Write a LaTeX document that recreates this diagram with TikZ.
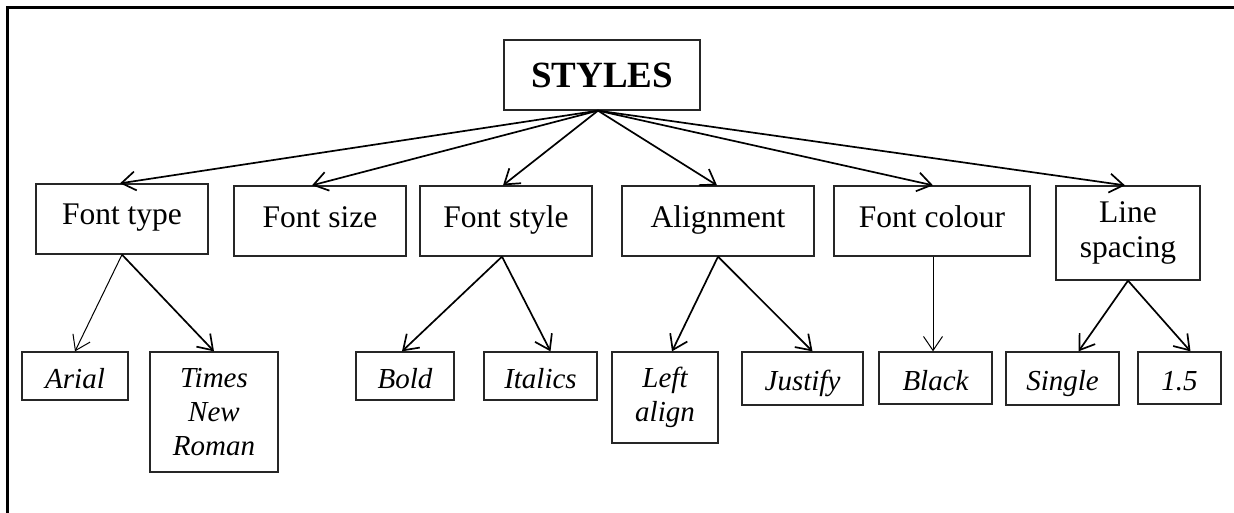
\documentclass[tikz,border=0pt]{standalone}
\usepackage{fontspec}
\setmainfont{Liberation Serif}
\usetikzlibrary{arrows.meta}

\tikzset{
  box/.style={draw=black!85, line width=1.3pt, inner sep=0pt},
  lvlone/.style={box, font=\fontsize{31.5}{35}\selectfont},
  lvltwo/.style={box, font=\fontsize{29}{34}\selectfont\itshape},
  oneup/.style={text height=22pt, text depth=10pt},
  twoup/.style={text height=28pt, text depth=4pt},
}

\begin{document}
\begin{tikzpicture}[x=1pt, y=-1pt, >={Straight Barb[length=14pt,width=19pt]}, line width=1.7pt]
\useasboundingbox (0,0) rectangle (1234,513);
\draw[line width=2.5pt] (7.5,513) -- (7.5,7.5) -- (1234,7.5);
\node[box, font=\fontsize{37}{40}\selectfont\bfseries, minimum width=196pt, minimum height=70pt] (styles) at (602,75) {STYLES\hspace{14pt}};

\node[lvlone, oneup, minimum width=172pt, minimum height=70pt] (ftype) at (122,219) {Font type};
\node[lvlone, oneup, minimum width=172pt, minimum height=70pt] (fsize) at (320,221) {Font size};
\node[lvlone, oneup, minimum width=172pt, minimum height=70pt] (fstyle) at (506,221) {Font style};
\node[lvlone, oneup, minimum width=192pt, minimum height=70pt] (alignm) at (718,221) {Alignment};
\node[lvlone, oneup, minimum width=196pt, minimum height=70pt] (fcolour) at (932,221) {Font colour};
\node[lvlone, align=center, minimum width=144pt, minimum height=94pt] (lspace) at (1128,233) {Line\\spacing};

\node[lvltwo, twoup, minimum width=106pt, minimum height=48pt] (arial) at (75,376) {Arial};
\node[lvltwo, align=center, minimum width=128pt, minimum height=120pt] (times) at (214,412) {Times\\New\\Roman};
\node[lvltwo, twoup, minimum width=98pt, minimum height=48pt] (bold) at (405,376) {Bold};
\node[lvltwo, twoup, minimum width=113pt, minimum height=48pt] (italics) at (540.5,376) {Italics};
\node[lvltwo, align=center, minimum width=106pt, minimum height=91pt] (leftal) at (665,397.5) {Left\\align};
\node[lvltwo, twoup, minimum width=121pt, minimum height=53pt] (justify) at (802.5,378.5) {Justify};
\node[lvltwo, twoup, minimum width=113pt, minimum height=52pt] (black) at (935.5,378) {Black};
\node[lvltwo, twoup, minimum width=113pt, minimum height=53pt] (single) at (1062.5,378.5) {Single};
\node[lvltwo, twoup, minimum width=83pt, minimum height=52pt] (onefive) at (1179.5,378) {1.5};

\foreach \t/\d in {ftype/-2, fsize/-8, fstyle/-3, alignm/-1, fcolour/1, lspace/-3}
  \draw[->] ([xshift=-4pt]styles.south) -- ([xshift=\d pt]\t.north);

\draw[->, line width=1pt] (ftype.south) -- (arial.north);
\draw[->] (ftype.south) -- (times.north);
\draw[->] ([xshift=-4pt]fstyle.south) -- ([xshift=-3pt]bold.north);
\draw[->] ([xshift=-4pt]fstyle.south) -- ([xshift=10pt]italics.north);
\draw[->] (alignm.south) -- ([xshift=7pt]leftal.north);
\draw[->] (alignm.south) -- ([xshift=10pt]justify.north);
\draw[->, line width=1pt] ([xshift=1pt]fcolour.south) -- ([xshift=1pt]fcolour.south |- black.north);
\draw[->] (lspace.south) -- ([xshift=16pt]single.north);
\draw[->] (lspace.south) -- ([xshift=11pt]onefive.north);
\end{tikzpicture}
\end{document}
